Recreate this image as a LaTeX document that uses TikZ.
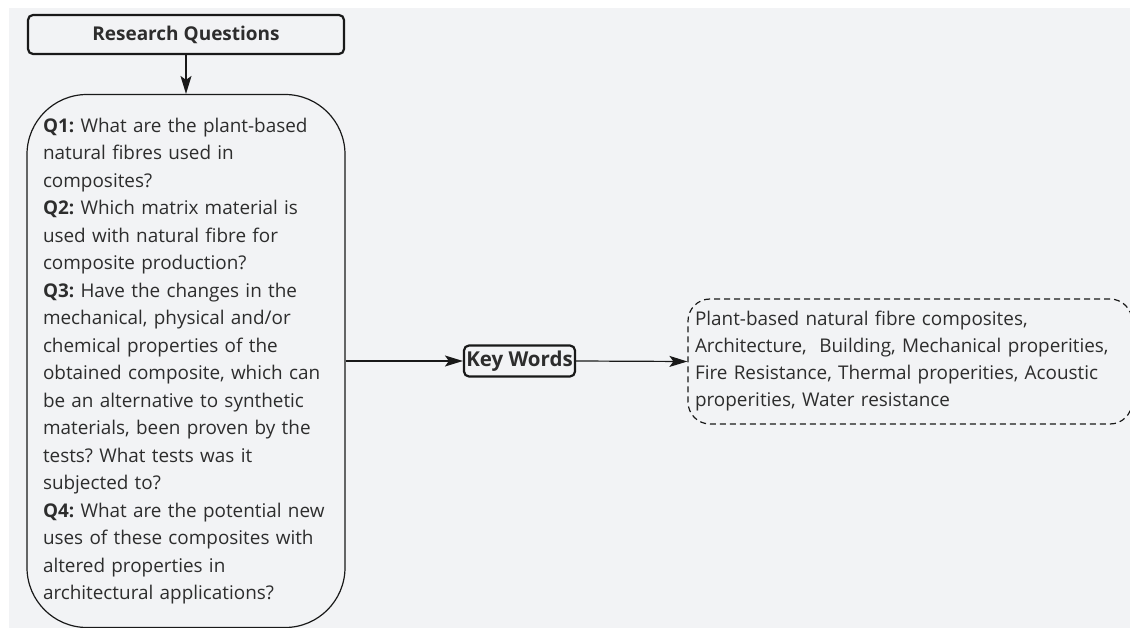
\documentclass[tikz,border=0pt]{standalone}
\usepackage{fontspec}
\setmainfont{Open Sans}
\usetikzlibrary{arrows.meta}
\definecolor{bg}{RGB}{242,243,245}
\definecolor{txt}{RGB}{45,45,45}
\definecolor{ln}{RGB}{25,25,25}
\frenchspacing
\tikzset{
  bodyfont/.style={font=\frenchspacing\fontsize{18.9}{27.5}\selectfont},
  titlebox/.style={draw=ln, line width=2.2pt, rounded corners=5pt, fill=bg, text=txt,
    font=\bfseries\fontsize{19}{22}\selectfont, inner sep=0pt},
  qbox/.style={draw=ln, line width=1.2pt, rounded corners=60pt, fill=bg, text=txt,
    bodyfont, align=left, inner xsep=16pt, inner ysep=0pt},
  kwbox/.style={draw=ln, dash pattern=on 6pt off 4pt, line width=1.2pt, rounded corners=22pt, fill=bg, text=txt,
    font=\frenchspacing\fontsize{18.9}{27}\selectfont, align=left, inner xsep=7pt, inner ysep=0pt},
  arr/.style={draw=ln, line width=1.2pt, -{Stealth[length=18pt,width=11pt,inset=4pt]}},
}
\begin{document}
\begin{tikzpicture}[x=1pt,y=-1pt]
\useasboundingbox (0,0) rectangle (1130,628);
\fill[white] (0,0) rectangle (1130,628);
\fill[bg] (9,8) rectangle (1130,628);

\node[titlebox, minimum width=316pt, minimum height=39pt] (rq) at (186,34.5) {Research Questions};

\node[qbox, text width=286pt, minimum height=533pt] (q) at (186,361) {%
\textbf{Q1:} What are the plant-based\\
natural fibres used in\\
composites?\\
\textbf{Q2:} Which matrix material is\\
used with natural fibre for\\
composite production?\\
\textbf{Q3:} Have the changes in the\\
mechanical, physical and/or\\
chemical properties of the\\
obtained composite, which can\\
be an alternative to synthetic\\
materials, been proven by the\\
tests? What tests was it\\
subjected to?\\
\textbf{Q4:} What are the potential new\\
uses of these composites with\\
altered properties in\\
architectural applications?};

\node[titlebox, minimum width=111pt, minimum height=31pt, font=\bfseries\fontsize{20.5}{22}\selectfont] (kw) at (519.5,361) {Key Words};

\node[kwbox, text width=430pt, minimum height=125pt] (kl) at (910,361.5) {%
Plant-based natural fibre composites,\\
Architecture,\ \ Building, Mechanical properities,\\
Fire Resistance, Thermal properities, Acoustic\\
properities, Water resistance};

\draw[arr] (rq.south) -- (q.north);
\draw[arr] (q.east) -- (kw.west);
\draw[arr] (kw.east) -- (kl.west);
\end{tikzpicture}
\end{document}
